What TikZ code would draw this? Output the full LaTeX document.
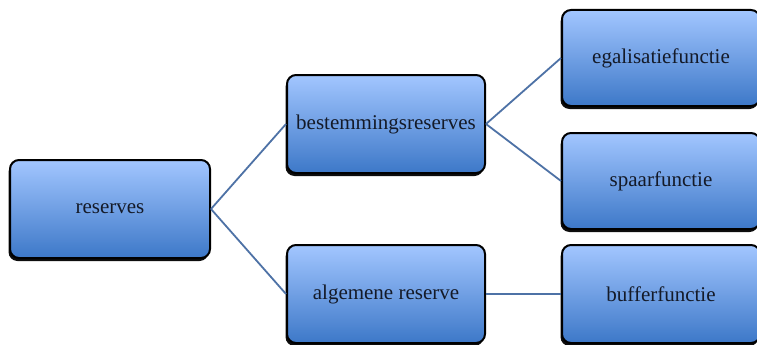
\documentclass[tikz,border=0pt]{standalone}
\usepackage{fontspec}
\setmainfont{Liberation Serif}
\usetikzlibrary{shadows}
\definecolor{boxtop}{HTML}{A2C6FF}
\definecolor{boxbot}{HTML}{3D78C8}
\definecolor{linkblue}{HTML}{4E72A6}
\definecolor{txt}{HTML}{141A28}
\tikzset{
  boxnode/.style={rectangle, rounded corners=9pt, draw=black, line width=2pt,
    top color=boxtop, bottom color=boxbot, minimum width=198pt, minimum height=98pt,
    inner sep=0pt, text=txt, font=\fontsize{21}{24}\selectfont,
    drop shadow={shadow xshift=-1.5pt, shadow yshift=-3pt, fill=black, opacity=0.95}},
  link/.style={draw=linkblue, line width=1.8pt}
}
\begin{document}
\begin{tikzpicture}[x=1pt, y=-1pt]
  \clip (0,0) rectangle (757,345);
  \fill[white] (0,0) rectangle (757,345);
  % box centres
  \coordinate (r) at (110,209);
  \coordinate (b) at (386,124);
  \coordinate (a) at (386,294);
  \coordinate (e) at (661,58);
  \coordinate (s) at (661,181);
  \coordinate (f) at (661,294);
  \node[boxnode, minimum width=200pt] (res) at (r) {reserves};
  \node[boxnode] (bes) at (b) {bestemmingsreserves};
  \node[boxnode] (alg) at (a) {algemene reserve};
  \node[boxnode, minimum height=96pt] (ega) at (e) {egalisatiefunctie};
  \node[boxnode, minimum height=96pt] (spa) at (s) {spaarfunctie};
  \node[boxnode] (buf) at (f) {bufferfunctie};
  % connectors
  \draw[link] (res.east) -- (bes.west);
  \draw[link] (res.east) -- (alg.west);
  \draw[link] (bes.east) -- (ega.west);
  \draw[link] (bes.east) -- (spa.west);
  \draw[link] (alg.east) -- (buf.west);
\end{tikzpicture}
\end{document}
